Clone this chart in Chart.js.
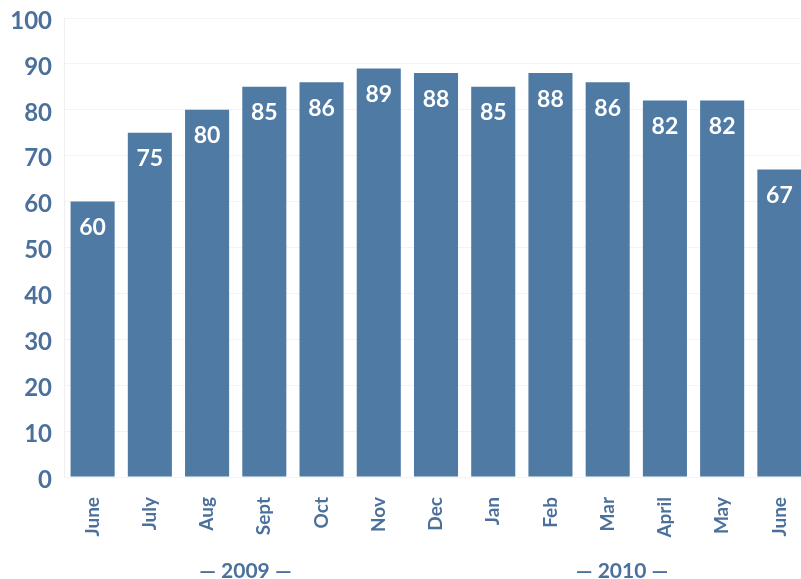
<!DOCTYPE html>
<html>
<head>
<meta charset="utf-8">
<script src="https://cdn.jsdelivr.net/npm/chart.js@4/dist/chart.umd.min.js"></script>
<style>
  html, body { margin: 0; padding: 0; background: #ffffff; overflow: hidden; }
  #wrap { width: 812px; height: 579px; }
</style>
</head>
<body>
<div id="wrap"><canvas id="barChart"></canvas></div>
<script>
// monthly values, June 2009 - June 2010
const months = ["June", "July", "Aug", "Sept", "Oct", "Nov", "Dec", "Jan", "Feb", "Mar", "April", "May", "June"];
const scores = [60, 75, 80, 85, 86, 89, 88, 85, 88, 86, 82, 82, 67];
const yTicks = [0, 10, 20, 30, 40, 50, 60, 70, 80, 90, 100];
const yearLabels = ["\u2014 2009 \u2014", "\u2014 2010 \u2014"];
const yearAt = [2.67, 9.25]; // category index each year caption sits under

const blue = "#4f7aa4";
const textBlue = "#4b709b";
const fontFamily = "Lato, 'Open Sans', sans-serif";

// white number near the top of each bar
const valueLabels = {
  id: "valueLabels",
  afterDatasetsDraw(chart) {
    const ctx = chart.ctx;
    const meta = chart.getDatasetMeta(0);
    ctx.save();
    ctx.fillStyle = "#ffffff";
    ctx.font = "bold 23px " + fontFamily;
    ctx.textAlign = "center";
    ctx.textBaseline = "middle";
    meta.data.forEach((bar, i) => {
      ctx.fillText(String(scores[i]), bar.x, bar.y + 26);
    });
    ctx.restore();
  },
};

// year captions under the month labels
const yearCaptions = {
  id: "yearCaptions",
  afterDraw(chart) {
    const ctx = chart.ctx;
    const x = chart.scales.x;
    const step = x.getPixelForValue(1) - x.getPixelForValue(0);
    ctx.save();
    ctx.fillStyle = textBlue;
    ctx.font = "bold 21px " + fontFamily;
    ctx.textAlign = "center";
    ctx.textBaseline = "middle";
    yearLabels.forEach((txt, i) => {
      ctx.fillText(txt, x.getPixelForValue(0) + step * yearAt[i], 571);
    });
    ctx.restore();
  },
};

new Chart(document.getElementById("barChart").getContext("2d"), {
  type: "bar",
  data: {
    labels: months,
    datasets: [{
      data: scores,
      backgroundColor: blue,
      borderWidth: 0,
      barPercentage: 0.77,
      categoryPercentage: 1.0,
    }],
  },
  options: {
    responsive: true,
    maintainAspectRatio: false,
    animation: false,
    layout: { padding: { top: 18, right: 4, bottom: 0, left: 0 } },
    plugins: {
      legend: { display: false },
      tooltip: { enabled: false },
    },
    scales: {
      x: {
        grid: { display: false },
        border: { display: false },
        afterFit: (s) => { s.height = 102; s.paddingLeft = 0; s.paddingRight = 0; },
        ticks: {
          color: textBlue,
          font: { family: fontFamily, size: 19, weight: "bold" },
          minRotation: 90,
          maxRotation: 90,
          padding: 12,
          autoSkip: false,
        },
      },
      y: {
        min: 0,
        max: 100,
        afterFit: (s) => { s.width = 64; s.paddingTop = 0; s.paddingBottom = 0; },
        afterBuildTicks: (s) => { s.ticks = yTicks.map((v) => ({ value: v })); },
        grid: { color: "#f3f2f6", drawTicks: false },
        border: { display: true, color: "#efeef3" },
        ticks: {
          color: textBlue,
          font: { family: fontFamily, size: 24, weight: "bold" },
          padding: 12,
          labelOffset: 3,
        },
      },
    },
  },
  plugins: [valueLabels, yearCaptions],
});
</script>
</body>
</html>
